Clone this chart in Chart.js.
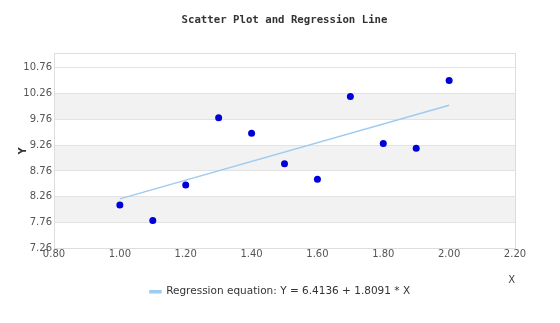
<!DOCTYPE html>
<html>
<head>
<meta charset="utf-8">
<script src="https://cdn.jsdelivr.net/npm/chart.js@4/dist/chart.umd.min.js"></script>
<style>
  html, body { margin: 0; padding: 0; background: #ffffff; }
  #wrap { width: 560px; height: 323px; }
</style>
</head>
<body>
<div id="wrap"><canvas id="c" width="560" height="323"></canvas></div>
<script>
// ---- data ----
const xValues = [1.0, 1.1, 1.2, 1.3, 1.4, 1.5, 1.6, 1.7, 1.8, 1.9, 2.0];
const yValues = [8.10, 7.80, 8.49, 9.79, 9.49, 8.90, 8.60, 10.20, 9.29, 9.20, 10.51];
const lineX = [1.0, 2.0];
const lineY = [8.22, 10.03];
const xTicks = [0.8, 1.0, 1.2, 1.4, 1.6, 1.8, 2.0, 2.2];
const yTicks = [7.26, 7.76, 8.26, 8.76, 9.26, 9.76, 10.26, 10.76];
const chartTitle = 'Scatter Plot and Regression Line';
const legendLabel = 'Regression equation: Y = 6.4136 + 1.8091 * X';
const xTitle = 'X';
const yTitle = 'Y';

const scatterPts = xValues.map((x, i) => ({ x: x, y: yValues[i] }));
const linePts = lineX.map((x, i) => ({ x: x, y: lineY[i] }));

const bandsPlugin = {
  id: 'bands',
  beforeDraw(chart) {
    const ctx = chart.ctx;
    const ys = chart.scales.y;
    const area = chart.chartArea;
    ctx.save();
    ctx.fillStyle = '#f2f2f2';
    for (let i = 1; i + 1 < yTicks.length; i += 2) {
      const top = ys.getPixelForValue(yTicks[i + 1]);
      const bot = ys.getPixelForValue(yTicks[i]);
      ctx.fillRect(area.left, top, area.right - area.left, bot - top);
    }
    ctx.restore();
  },
  beforeDatasetsDraw(chart) {
    const ctx = chart.ctx;
    const a = chart.chartArea;
    ctx.save();
    ctx.strokeStyle = '#dddddd';
    ctx.lineWidth = 1;
    ctx.strokeRect(Math.round(a.left) + 0.5, Math.round(a.top) + 0.5,
                   Math.round(a.right - a.left), Math.round(a.bottom - a.top));
    ctx.restore();
  }
};

new Chart(document.getElementById('c'), {
  type: 'scatter',
  data: {
    datasets: [
      {
        label: 'Data',
        data: scatterPts,
        backgroundColor: '#0000d8',
        borderColor: '#0000d8',
        pointRadius: 3.5,
        pointHoverRadius: 3.5,
        borderWidth: 0,
        showLine: false
      },
      {
        label: legendLabel,
        data: linePts,
        showLine: true,
        borderColor: '#9ecbf2',
        backgroundColor: '#9ecbf2',
        borderWidth: 1.5,
        pointRadius: 0,
        pointHoverRadius: 0,
        fill: false
      }
    ]
  },
  options: {
    responsive: false,
    animation: false,
    events: [],
    layout: { padding: { left: 0, right: 0, top: 0, bottom: 16 } },
    plugins: {
      title: {
        display: true,
        fullSize: false,
        text: chartTitle,
        color: '#333333',
        font: { family: '"DejaVu Sans Mono", monospace', size: 10.7, weight: 'bold', lineHeight: 1.2 },
        padding: { top: 14, bottom: 26.2 }
      },
      legend: {
        display: true,
        position: 'bottom',
        labels: {
          filter: (item) => item.datasetIndex === 1,
          color: '#333333',
          font: { family: '"DejaVu Sans", sans-serif', size: 10.5 },
          boxWidth: 11,
          boxHeight: 2,
          padding: 4
        }
      },
      tooltip: { enabled: false }
    },
    scales: {
      x: {
        type: 'linear',
        min: 0.8,
        max: 2.2,
        afterBuildTicks: (s) => { s.ticks = xTicks.map(v => ({ value: v })); },
        afterFit: (s) => { s.height = 34; },
        ticks: {
          color: '#555555',
          font: { family: '"DejaVu Sans", sans-serif', size: 10 },
          padding: 0,
          maxRotation: 0,
          autoSkip: false,
          callback: (v) => Number(v).toFixed(2)
        },
        grid: { display: false, drawTicks: false },
        border: { display: true, color: '#dddddd' },
        title: {
          display: true,
          text: xTitle,
          align: 'end',
          color: '#444444',
          font: { family: '"DejaVu Sans", sans-serif', size: 10 },
          padding: { top: 0, bottom: -4 }
        }
      },
      y: {
        type: 'linear',
        min: 7.26,
        max: 11.04,
        afterBuildTicks: (s) => { s.ticks = yTicks.map(v => ({ value: v })); },
        afterFit: (s) => { s.width = 54; },
        ticks: {
          color: '#555555',
          font: { family: '"DejaVu Sans", sans-serif', size: 10 },
          padding: 2,
          autoSkip: false,
          callback: (v) => Number(v).toFixed(2)
        },
        grid: { display: true, color: '#e2e2e2', drawTicks: false },
        border: { display: true, color: '#dddddd' },
        title: {
          display: true,
          text: yTitle,
          color: '#333333',
          font: { family: '"DejaVu Sans", sans-serif', size: 10, weight: 'bold' },
          padding: { top: 17, bottom: 0 }
        }
      },
      yRight: {
        type: 'linear',
        position: 'right',
        min: 0,
        max: 1,
        display: true,
        afterFit: (s) => { s.width = 45; },
        ticks: { display: false },
        grid: { display: false, drawTicks: false },
        border: { display: false }
      }
    }
  },
  plugins: [bandsPlugin]
});
</script>
</body>
</html>
